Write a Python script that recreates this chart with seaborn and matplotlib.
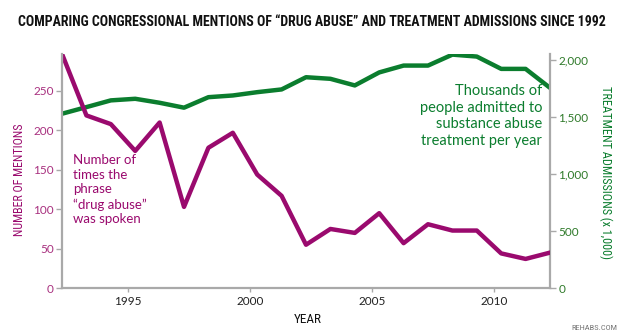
import matplotlib
matplotlib.use("Agg")
import matplotlib.pyplot as plt
from matplotlib import font_manager
import seaborn as sns
import pandas as pd

years = list(range(1992, 2013))
mentions = [297, 219, 208, 174, 210, 103, 178, 197, 144, 117, 55, 75, 70, 95, 57, 81, 73, 73, 44, 37, 45]
admissions = [1528, 1586, 1645, 1659, 1624, 1581, 1673, 1688, 1717, 1741, 1848, 1834, 1776, 1890, 1950, 1950, 2046, 2029, 1921, 1921, 1755]
year_ticks = [1995, 2000, 2005, 2010]
left_ticks = [0, 50, 100, 150, 200, 250]
right_ticks = [0, 500, 1000, 1500, 2000]

title = "COMPARING CONGRESSIONAL MENTIONS OF \u201cDRUG ABUSE\u201d AND TREATMENT ADMISSIONS SINCE 1992"

PURPLE = "#9a0a6e"
GREEN = "#0b7d2e"
PURPLE_T = "#a8307f"
GREEN_T = "#2f7a2a"
GRAY = "#a9a9a9"

sns.set_theme(style="white")
plt.rcParams['font.family'] = ['Lato', 'DejaVu Sans']

installed = {f.name for f in font_manager.fontManager.ttflist}
cond_font = None
for cand in ['Liberation Sans Narrow', 'Roboto Condensed', 'Open Sans Condensed',
             'Noto Sans Condensed', 'DejaVu Sans Condensed']:
    if cand in installed:
        cond_font = cand
        break
stretch = 'normal'
if cond_font is None:
    cond_font = 'Roboto'
    stretch = 'condensed'
cond = [cond_font, 'DejaVu Sans']

df = pd.DataFrame({"year": years, "mentions": mentions, "admissions": admissions})
# data points sit slightly after the year boundary in the reference
df["x"] = df["year"] + 0.3

fig = plt.figure(figsize=(6.24, 3.35), dpi=100)
ax = fig.add_axes([0.0994, 0.140, 0.782, 0.699])
ax2 = ax.twinx()

sns.lineplot(data=df, x="x", y="admissions", ax=ax2, color=GREEN, lw=3.2)
sns.lineplot(data=df, x="x", y="mentions", ax=ax, color=PURPLE, lw=3.2)
ax.set_zorder(ax2.get_zorder() + 1)
ax.patch.set_visible(False)

ax.set_xlim(1992.3, 2012.3)
ax.set_ylim(0, 297)
ax2.set_ylim(0, 2052)

ax.set_xticks(year_ticks)
ax.set_xticklabels([str(y) for y in year_ticks], fontsize=8.5, color="#222222")
ax.set_yticks(left_ticks)
ax.set_yticklabels([str(v) for v in left_ticks], fontsize=8.5, color=PURPLE_T)
ax2.set_yticks(right_ticks)
ax2.set_yticklabels([f"{v:,}" for v in right_ticks], fontsize=8.5, color=GREEN_T)

for a in (ax, ax2):
    for s in a.spines.values():
        s.set_visible(False)
ax.spines["left"].set_visible(True)
ax.spines["bottom"].set_visible(True)
ax2.spines["right"].set_visible(True)
for s in (ax.spines["left"], ax.spines["bottom"], ax2.spines["right"]):
    s.set_color(GRAY)
    s.set_linewidth(1.6)

ax.tick_params(axis="y", direction="out", length=4, width=1, color=GRAY, pad=2, left=True)
ax.tick_params(axis="x", direction="out", length=3, width=1, color=GRAY, pad=3, bottom=True)
ax2.tick_params(axis="y", direction="out", length=4, width=1, color=GRAY, pad=2, right=True)

ax.set_xlabel("")
ax.set_ylabel("")
ax2.set_xlabel("")
ax2.set_ylabel("")

renderer = fig.canvas.get_renderer()


def fit_text(t, target_px, horizontal=True):
    for _ in range(4):
        bb = t.get_window_extent(renderer=renderer)
        cur = bb.width if horizontal else bb.height
        if cur <= 0:
            break
        t.set_fontsize(t.get_fontsize() * target_px / cur)


t_title = fig.text(0.5, 0.935, title, ha="center", va="center", fontsize=11, fontweight="bold",
                   family=cond, fontstretch=stretch, color="#111111")
fit_text(t_title, 585)
t_l = fig.text(0.032, 0.463, "NUMBER OF MENTIONS", rotation=90, ha="center", va="center",
               fontsize=9.5, family=cond, fontstretch=stretch, color=PURPLE)
fit_text(t_l, 114, horizontal=False)
t_r = fig.text(0.970, 0.486, "TREATMENT ADMISSIONS (x 1,000)", rotation=270, ha="center", va="center",
               fontsize=9.5, family=cond, fontstretch=stretch, color=GREEN)
fit_text(t_r, 172, horizontal=False)
t_y = fig.text(0.494, 0.045, "YEAR", ha="center", va="center", fontsize=10, family=cond,
               fontstretch=stretch, color="#111111")
fit_text(t_y, 28)
fig.text(0.99, 0.02, "REHABS.COM", ha="right", va="center", fontsize=6, family=cond,
         fontstretch=stretch, color="#777777")

fig.text(72.7 / 624, 1 - 154 / 335, "Number of\ntimes the\nphrase\n\u201cdrug abuse\u201d\nwas spoken",
         ha="left", va="top", fontsize=9.5, color=PURPLE, linespacing=1.27)
fig.text(542 / 624, 1 - 84 / 335, "Thousands of\npeople admitted to\nsubstance abuse\ntreatment per year",
         ha="right", va="top", fontsize=10.5, color=GREEN, linespacing=1.25)

fig.savefig("out.png", dpi=100)
